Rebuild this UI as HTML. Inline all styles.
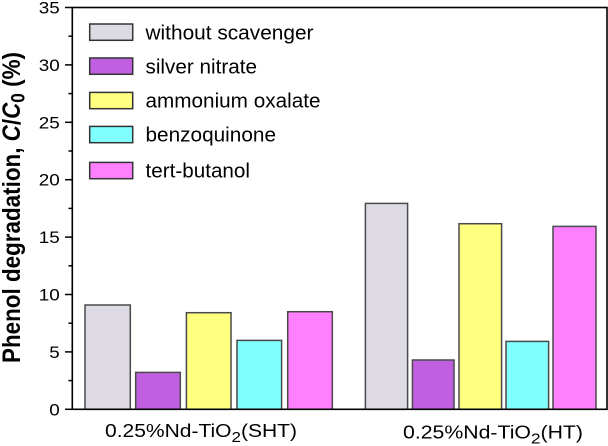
<!DOCTYPE html>
<html>
<head>
<meta charset="utf-8">
<style>
  html,body{margin:0;padding:0;background:#fff;}
  svg{display:block;}
  text{font-family:"Liberation Sans",Arial,sans-serif;fill:#000;}
</style>
</head>
<body>
<svg width="608" height="446" viewBox="0 0 608 446" xmlns="http://www.w3.org/2000/svg">
  <rect x="0" y="0" width="608" height="446" fill="#fff"/>

  <!-- Bars group 1 -->
  <g stroke="#4a4a4a" stroke-width="1.5">
    <rect x="85" y="305" width="45.3" height="104.3" fill="#dddae4"/>
    <rect x="135.7" y="372.4" width="44.6" height="36.9" fill="#c060e0"/>
    <rect x="186.4" y="312.7" width="44.6" height="96.6" fill="#ffff80"/>
    <rect x="237" y="340.4" width="44.6" height="68.9" fill="#80ffff"/>
    <rect x="287.7" y="311.7" width="44.6" height="97.6" fill="#ff80ff"/>
  </g>
  <!-- Bars group 2 -->
  <g stroke="#4a4a4a" stroke-width="1.5">
    <rect x="365.4" y="203.4" width="42.2" height="205.9" fill="#dddae4"/>
    <rect x="412.4" y="360" width="41.6" height="49.3" fill="#c060e0"/>
    <rect x="459" y="223.7" width="42.6" height="185.6" fill="#ffff80"/>
    <rect x="506" y="341.4" width="42.6" height="67.9" fill="#80ffff"/>
    <rect x="553" y="226.4" width="43" height="182.9" fill="#ff80ff"/>
  </g>

  <!-- Frame -->
  <rect x="72.3" y="7.5" width="534.7" height="401.8" fill="none" stroke="#000" stroke-width="1.6"/>

  <!-- Y ticks -->
  <g stroke="#000" stroke-width="1.5">
    <line x1="65" y1="409.3" x2="72.3" y2="409.3"/>
    <line x1="65" y1="351.9" x2="72.3" y2="351.9"/>
    <line x1="65" y1="294.5" x2="72.3" y2="294.5"/>
    <line x1="65" y1="237.1" x2="72.3" y2="237.1"/>
    <line x1="65" y1="179.7" x2="72.3" y2="179.7"/>
    <line x1="65" y1="122.3" x2="72.3" y2="122.3"/>
    <line x1="65" y1="64.9" x2="72.3" y2="64.9"/>
    <line x1="65" y1="7.5" x2="72.3" y2="7.5"/>
    <line x1="68.5" y1="380.6" x2="72.3" y2="380.6"/>
    <line x1="68.5" y1="323.2" x2="72.3" y2="323.2"/>
    <line x1="68.5" y1="265.8" x2="72.3" y2="265.8"/>
    <line x1="68.5" y1="208.4" x2="72.3" y2="208.4"/>
    <line x1="68.5" y1="151" x2="72.3" y2="151"/>
    <line x1="68.5" y1="93.6" x2="72.3" y2="93.6"/>
    <line x1="68.5" y1="36.2" x2="72.3" y2="36.2"/>
  </g>

  <!-- Y tick labels -->
  <g font-size="17" text-anchor="end">
    <text x="59.8" y="415.3" textLength="10.5" lengthAdjust="spacingAndGlyphs">0</text>
    <text x="59.8" y="357.9" textLength="10.5" lengthAdjust="spacingAndGlyphs">5</text>
    <text x="59.8" y="300.5" textLength="21" lengthAdjust="spacingAndGlyphs">10</text>
    <text x="59.8" y="243.1" textLength="21" lengthAdjust="spacingAndGlyphs">15</text>
    <text x="59.8" y="185.7" textLength="21" lengthAdjust="spacingAndGlyphs">20</text>
    <text x="59.8" y="128.3" textLength="21" lengthAdjust="spacingAndGlyphs">25</text>
    <text x="59.8" y="70.9" textLength="21" lengthAdjust="spacingAndGlyphs">30</text>
    <text x="59.8" y="13.5" textLength="21" lengthAdjust="spacingAndGlyphs">35</text>
  </g>

  <!-- Y axis label -->
  <g transform="translate(20,207.5) rotate(-90) scale(1,1.13)">
    <text x="0" y="0" font-size="22" font-weight="bold" text-anchor="middle" textLength="311" lengthAdjust="spacingAndGlyphs">Phenol degradation, <tspan font-style="italic">C</tspan>/<tspan font-style="italic">C</tspan><tspan font-size="17" dy="4">0</tspan><tspan dy="-4"> (%)</tspan></text>
  </g>

  <!-- X labels -->
  <text x="105" y="437" font-size="18.6" textLength="192" lengthAdjust="spacingAndGlyphs">0.25%Nd-TiO<tspan font-size="15" dy="5">2</tspan><tspan dy="-5">(SHT)</tspan></text>
  <text x="403" y="438.5" font-size="18.6" textLength="180" lengthAdjust="spacingAndGlyphs">0.25%Nd-TiO<tspan font-size="15" dy="5">2</tspan><tspan dy="-5">(HT)</tspan></text>

  <!-- Legend -->
  <g stroke="#333" stroke-width="1.5">
    <rect x="89.7" y="24" width="43" height="16.3" fill="#dddae4"/>
    <rect x="89.7" y="58" width="43" height="16.3" fill="#c060e0"/>
    <rect x="89.7" y="92.4" width="43" height="16.3" fill="#ffff80"/>
    <rect x="89.7" y="126.4" width="43" height="16.3" fill="#80ffff"/>
    <rect x="89.7" y="162.4" width="43" height="16.3" fill="#ff80ff"/>
  </g>
  <g font-size="20.5">
    <text x="145.5" y="39.7" textLength="168" lengthAdjust="spacingAndGlyphs">without scavenger</text>
    <text x="145.5" y="73.4" textLength="111.5" lengthAdjust="spacingAndGlyphs">silver nitrate</text>
    <text x="145.5" y="107.6" textLength="175" lengthAdjust="spacingAndGlyphs">ammonium oxalate</text>
    <text x="145.5" y="141.6" textLength="130.5" lengthAdjust="spacingAndGlyphs">benzoquinone</text>
    <text x="145.5" y="177.6" textLength="104.5" lengthAdjust="spacingAndGlyphs">tert-butanol</text>
  </g>
</svg>
</body>
</html>
